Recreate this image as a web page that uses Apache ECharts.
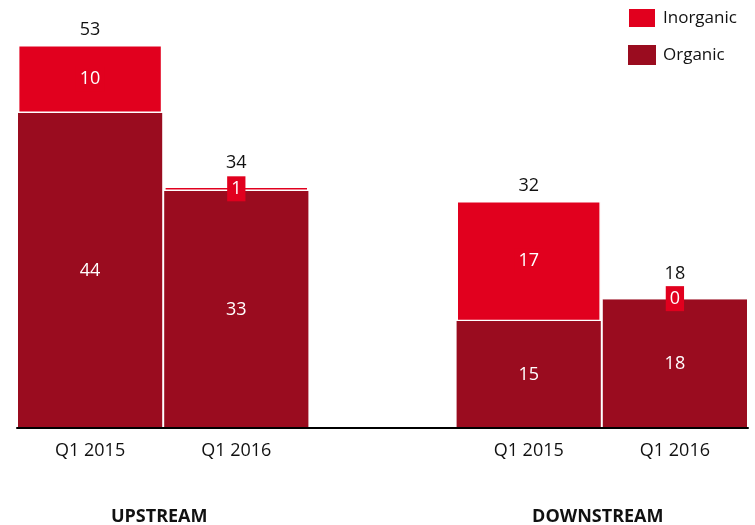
<!DOCTYPE html>
<html>
<head>
<meta charset="utf-8">
<script src="https://cdn.jsdelivr.net/npm/echarts@6/dist/echarts.min.js"></script>
<style>
  html, body { margin: 0; padding: 0; background: #fff; }
  #chart { width: 755px; height: 525px; }
</style>
</head>
<body>
<div id="chart"></div>
<script>
// data (null = empty slot between the two groups)
var categories = ['Q1 2015', 'Q1 2016', '', 'Q1 2015', 'Q1 2016'];
var groups = ['UPSTREAM', 'DOWNSTREAM'];
var organic = [43.6, 32.8, null, 14.8, 17.8];
var inorganic = [9.4, 0.6, null, 16.6, 0.2];
// labels as printed on the chart
var organicLabels = [44, 33, null, 15, 18];
var inorganicLabels = [10, 1, null, 17, 0];
var totals = [53, 34, null, 32, 18];

var font = '"Open Sans", "DejaVu Sans", sans-serif';
var red = '#e1001e';
var darkRed = '#9a0c1f';

var myChart = echarts.init(document.getElementById('chart'));

var gridLeft = 17, gridRight = 7;
var plotW = 755 - gridLeft - gridRight;

var option = {
  animation: false,
  textStyle: { fontFamily: font },
  legend: {
    orient: 'vertical',
    left: 622,
    top: 2,
    itemWidth: 28,
    itemHeight: 20,
    itemGap: 16,
    icon: 'rect',
    data: ['Inorganic', 'Organic'],
    textStyle: { fontFamily: font, fontSize: 17, color: '#111', padding: [0, 0, 0, 2] }
  },
  grid: { left: gridLeft, right: gridRight, top: 45, bottom: 97, containLabel: false },
  xAxis: {
    type: 'category',
    data: categories,
    axisLine: { lineStyle: { color: '#000', width: 2 } },
    axisTick: { show: false },
    axisLabel: { fontFamily: font, fontSize: 18, color: '#111', margin: 14 },
    z: 5
  },
  yAxis: {
    type: 'value',
    min: 0,
    max: 53,
    show: false,
    splitLine: { show: false }
  },
  series: [
    {
      name: 'Organic',
      type: 'bar',
      stack: 'all',
      barCategoryGap: 2,
      itemStyle: { color: darkRed },
      label: {
        show: true,
        position: 'inside',
        color: '#fff',
        fontFamily: font,
        fontSize: 18,
        formatter: function (p) { return organicLabels[p.dataIndex]; }
      },
      data: organic
    },
    {
      name: 'Inorganic',
      type: 'bar',
      stack: 'all',
      itemStyle: { color: red, borderColor: '#fff', borderWidth: 1.4 },
      label: {
        show: true,
        position: 'inside',
        color: '#fff',
        fontFamily: font,
        fontSize: 18,
        backgroundColor: red,
        padding: [4, 4, 3, 4],
        formatter: function (p) { return inorganicLabels[p.dataIndex]; }
      },
      data: inorganic
    },
    {
      name: 'Total',
      type: 'bar',
      stack: 'all',
      silent: true,
      itemStyle: { color: 'transparent' },
      label: {
        show: true,
        position: 'top',
        color: '#111',
        fontFamily: font,
        fontSize: 18,
        formatter: function (p) { return totals[p.dataIndex]; }
      },
      data: totals.map(function (t, i) {
        if (t == null) return null;
        return {
          value: 0,
          label: { distance: inorganic[i] < 2 ? 15 : 6 }
        };
      })
    }
  ],
  graphic: groups.map(function (g, i) {
    return {
      type: 'text',
      x: gridLeft + plotW * (i === 0 ? 1 : 4) / 5 - 4,
      y: 517,
      style: {
        text: g,
        fontFamily: font,
        fontSize: 18,
        fontWeight: 'bold',
        fill: '#111',
        textAlign: 'center',
        textVerticalAlign: 'middle'
      }
    };
  })
};

myChart.setOption(option);
</script>
</body>
</html>
